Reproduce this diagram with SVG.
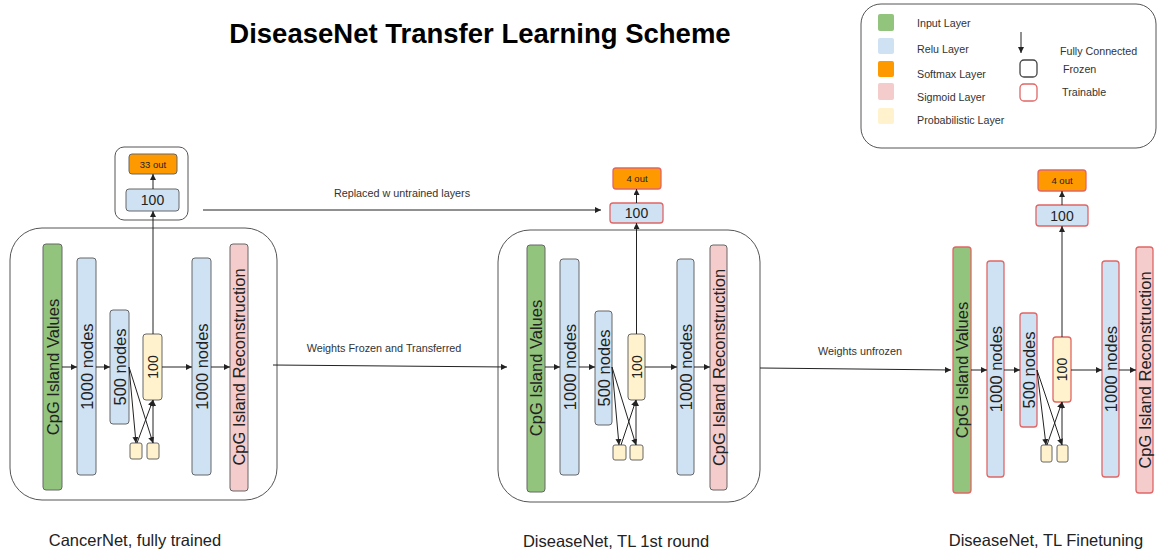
<svg xmlns="http://www.w3.org/2000/svg" width="1157" height="553" viewBox="0 0 1157 553">
<defs>
<marker id="ah" viewBox="0 0 10 10" refX="10" refY="5" markerWidth="6" markerHeight="6" markerUnits="userSpaceOnUse" orient="auto">
<path d="M0,0 L10,5 L0,10 z" fill="#222"/>
</marker>
</defs>
<style>
text{font-family:"Liberation Sans",Arial,sans-serif;fill:#222}
.c{stroke:#555;stroke-width:1;fill:none}
.n{stroke:#666;stroke-width:1}
.tr{stroke:#e06666;stroke-width:1.3}
.g{fill:#93c47d}.b{fill:#cfe2f3}.o{fill:#ff9900}.p{fill:#f4cccc}.y{fill:#fff2cc}
.v{font-size:16.5px;text-anchor:middle;dominant-baseline:central}
.h{font-size:14px;text-anchor:middle;dominant-baseline:central}
.s{font-size:9.5px;text-anchor:middle;dominant-baseline:central}
.lbl{font-size:10.8px;text-anchor:middle;fill:#333}
.cap{font-size:16.5px;text-anchor:middle}
.lg{font-size:10.7px;fill:#333;dominant-baseline:central}
.e line{stroke:#222;stroke-width:1;marker-end:url(#ah)}
</style>
<rect width="1157" height="553" fill="#fff"/>
<text x="480" y="43" text-anchor="middle" style="font-size:27.5px;font-weight:bold;fill:#000">DiseaseNet Transfer Learning Scheme</text>

<g id="legend">
<rect x="861" y="4" width="295" height="144" rx="20" class="c"/>
<rect x="878" y="14" width="16" height="17" rx="2" class="g"/>
<rect x="878" y="38" width="16" height="16" rx="2" class="b"/>
<rect x="878" y="61" width="16" height="16" rx="2" class="o"/>
<rect x="878" y="83" width="16" height="17" rx="2" class="p"/>
<rect x="878" y="108" width="16" height="16" rx="2" class="y"/>
<text class="lg" x="917" y="23">Input Layer</text>
<text class="lg" x="917" y="49">Relu Layer</text>
<text class="lg" x="917" y="74">Softmax Layer</text>
<text class="lg" x="917" y="97">Sigmoid Layer</text>
<text class="lg" x="917" y="120">Probabilistic Layer</text>
<line x1="1021" y1="32" x2="1021" y2="53" stroke="#222" marker-end="url(#ah)"/>
<text class="lg" x="1060" y="51">Fully Connected</text>
<rect x="1020" y="60" width="17" height="17" rx="4" fill="#fff" stroke="#444" stroke-width="1.3"/>
<text class="lg" x="1063" y="69">Frozen</text>
<rect x="1020" y="84" width="17" height="17" rx="4" fill="#fff" stroke="#e06666" stroke-width="1.3"/>
<text class="lg" x="1062" y="92">Trainable</text>
</g>

<g id="cancernet">
<rect x="115" y="147" width="73" height="73" rx="9" class="c"/>
<rect x="10" y="228" width="267" height="272" rx="32" class="c"/>
<g id="p1-out33"><rect x="129" y="154" width="48" height="20" rx="3" class="o n"/><text class="s" x="153" y="164">33 out</text></g>
<g id="p1-fc100"><rect x="126" y="189" width="53" height="22" rx="3" class="b n"/><text class="h" x="152.5" y="200">100</text></g>
<g id="p1-input"><rect x="43" y="244" width="19" height="246" rx="3" class="g n"/><text class="v" transform="rotate(-90 52.5 367)" x="52.5" y="367">CpG Island Values</text></g>
<g id="p1-r1000a"><rect x="77" y="258" width="19" height="217" rx="3" class="b n"/><text class="v" transform="rotate(-90 86.5 366.5)" x="86.5" y="366.5">1000 nodes</text></g>
<g id="p1-r500"><rect x="110" y="310" width="19" height="114" rx="3" class="b n"/><text class="v" transform="rotate(-90 119.5 367)" x="119.5" y="367">500 nodes</text></g>
<g id="p1-p100"><rect x="143" y="334" width="19" height="66" rx="3" class="y n"/><text class="h" transform="rotate(-90 152.5 367)" x="152.5" y="367">100</text></g>
<g id="p1-s1"><rect x="130" y="443" width="12" height="16" rx="2" class="y n"/></g>
<g id="p1-s2"><rect x="147" y="443" width="12" height="16" rx="2" class="y n"/></g>
<g id="p1-r1000b"><rect x="192" y="258" width="19" height="217" rx="3" class="b n"/><text class="v" transform="rotate(-90 201.5 366.5)" x="201.5" y="366.5">1000 nodes</text></g>
<g id="p1-recon"><rect x="230" y="244" width="18" height="247" rx="3" class="p n"/><text class="v" transform="rotate(-90 239 367)" x="239" y="367">CpG Island Reconstruction</text></g>
<text class="cap" x="135" y="546">CancerNet, fully trained</text>
</g>

<g id="tl1">
<rect x="498" y="230" width="262" height="272" rx="32" class="c"/>
<g id="p2-out4"><rect x="613" y="168" width="48" height="21" rx="3" class="o tr"/><text class="s" x="637" y="178.5">4 out</text></g>
<g id="p2-fc100"><rect x="610" y="203" width="53" height="20" rx="3" class="b tr"/><text class="h" x="636.5" y="213">100</text></g>
<g id="p2-input"><rect x="527" y="245" width="18" height="247" rx="3" class="g n"/><text class="v" transform="rotate(-90 536 368)" x="536" y="368">CpG Island Values</text></g>
<g id="p2-r1000a"><rect x="560" y="259" width="19" height="216" rx="3" class="b n"/><text class="v" transform="rotate(-90 569.5 367)" x="569.5" y="367">1000 nodes</text></g>
<g id="p2-r500"><rect x="595" y="311" width="17" height="114" rx="3" class="b n"/><text class="v" transform="rotate(-90 603.5 368)" x="603.5" y="368">500 nodes</text></g>
<g id="p2-p100"><rect x="628" y="334" width="17" height="66" rx="3" class="y n"/><text class="h" transform="rotate(-90 636.5 367)" x="636.5" y="367">100</text></g>
<g id="p2-s1"><rect x="613" y="445" width="13" height="15" rx="2" class="y n"/></g>
<g id="p2-s2"><rect x="630" y="445" width="13" height="15" rx="2" class="y n"/></g>
<g id="p2-r1000b"><rect x="677" y="259" width="17" height="216" rx="3" class="b n"/><text class="v" transform="rotate(-90 685.5 367)" x="685.5" y="367">1000 nodes</text></g>
<g id="p2-recon"><rect x="710" y="245" width="17" height="245" rx="3" class="p n"/><text class="v" transform="rotate(-90 718.5 367.5)" x="718.5" y="367.5">CpG Island Reconstruction</text></g>
<text class="cap" x="616" y="547">DiseaseNet, TL 1st round</text>
</g>

<g id="tlfine">
<g id="p3-out4"><rect x="1038" y="170" width="48" height="21" rx="3" class="o tr"/><text class="s" x="1062" y="180.5">4 out</text></g>
<g id="p3-fc100"><rect x="1036" y="205" width="52" height="21" rx="3" class="b tr"/><text class="h" x="1062" y="215.5">100</text></g>
<g id="p3-input"><rect x="953" y="247" width="18" height="246" rx="3" class="g tr"/><text class="v" transform="rotate(-90 962 370)" x="962" y="370">CpG Island Values</text></g>
<g id="p3-r1000a"><rect x="987" y="261" width="17" height="216" rx="3" class="b tr"/><text class="v" transform="rotate(-90 995.5 369)" x="995.5" y="369">1000 nodes</text></g>
<g id="p3-r500"><rect x="1020" y="313" width="17" height="114" rx="3" class="b tr"/><text class="v" transform="rotate(-90 1028.5 370)" x="1028.5" y="370">500 nodes</text></g>
<g id="p3-p100"><rect x="1053" y="337" width="18" height="65" rx="3" class="y tr"/><text class="h" transform="rotate(-90 1062 369.5)" x="1062" y="369.5">100</text></g>
<g id="p3-s1"><rect x="1041" y="445" width="11" height="17" rx="2" class="y n"/></g>
<g id="p3-s2"><rect x="1057" y="445" width="11" height="17" rx="2" class="y n"/></g>
<g id="p3-r1000b"><rect x="1102" y="261" width="17" height="216" rx="3" class="b tr"/><text class="v" transform="rotate(-90 1110.5 369)" x="1110.5" y="369">1000 nodes</text></g>
<g id="p3-recon"><rect x="1136" y="247" width="17" height="246" rx="3" class="p tr"/><text class="v" transform="rotate(-90 1144.5 370)" x="1144.5" y="370">CpG Island Reconstruction</text></g>
<text class="cap" x="1046" y="546">DiseaseNet, TL Finetuning</text>
</g>

<g id="connectors" class="e">
<line x1="62" y1="367" x2="77" y2="367"/>
<line x1="96" y1="367" x2="110" y2="367"/>
<line x1="162" y1="367" x2="192" y2="367"/>
<line x1="211" y1="367" x2="230" y2="367"/>
<line x1="129" y1="367" x2="136" y2="443"/>
<line x1="129" y1="367" x2="153" y2="443"/>
<line x1="137" y1="443" x2="153" y2="400"/>
<line x1="153" y1="443" x2="153" y2="400"/>
<line x1="153" y1="334" x2="153" y2="211"/>
<line x1="153" y1="189" x2="153" y2="174"/>

<line x1="203" y1="210" x2="601" y2="210"/>
<text class="lbl" x="402" y="197">Replaced w untrained layers</text>
<line x1="273" y1="365" x2="507" y2="367"/>
<text class="lbl" x="384" y="352">Weights Frozen and Transferred</text>

<line x1="545" y1="367" x2="560" y2="367"/>
<line x1="579" y1="367" x2="595" y2="367"/>
<line x1="645" y1="367" x2="677" y2="367"/>
<line x1="694" y1="367" x2="710" y2="367"/>
<line x1="612" y1="367" x2="619" y2="445"/>
<line x1="612" y1="367" x2="636" y2="445"/>
<line x1="621" y1="445" x2="636" y2="400"/>
<line x1="636" y1="445" x2="636" y2="400"/>
<line x1="636.5" y1="334" x2="636.5" y2="223"/>
<line x1="636.5" y1="203" x2="636.5" y2="189"/>

<line x1="760" y1="368" x2="951" y2="370"/>
<text class="lbl" x="860" y="355">Weights unfrozen</text>

<line x1="971" y1="370" x2="987" y2="370"/>
<line x1="1004" y1="370" x2="1020" y2="370"/>
<line x1="1071" y1="370" x2="1102" y2="370"/>
<line x1="1119" y1="370" x2="1136" y2="370"/>
<line x1="1037" y1="370" x2="1046" y2="445"/>
<line x1="1037" y1="370" x2="1062" y2="445"/>
<line x1="1047" y1="445" x2="1062" y2="402"/>
<line x1="1062" y1="445" x2="1062" y2="402"/>
<line x1="1062" y1="337" x2="1062" y2="226"/>
<line x1="1062" y1="205" x2="1062" y2="191"/>
</g>
</svg>
